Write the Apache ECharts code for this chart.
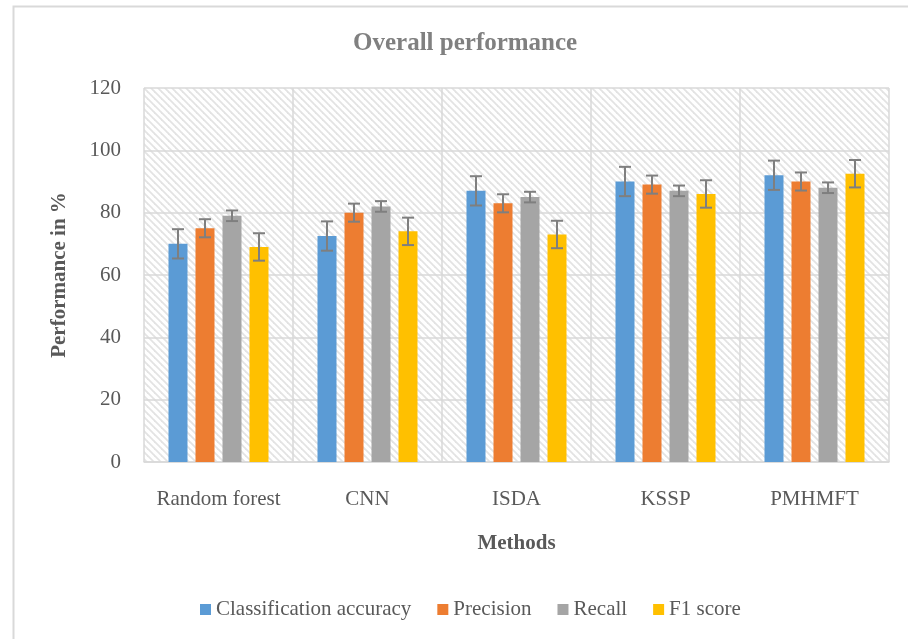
<!DOCTYPE html>
<html>
<head>
<meta charset="utf-8">
<script src="https://cdn.jsdelivr.net/npm/echarts@6/dist/echarts.min.js"></script>
<style>html,body{margin:0;padding:0;background:#fff;}#c{width:908px;height:639px;}</style>
</head>
<body>
<div id="c"></div>
<script>
var categories = ['Random forest', 'CNN', 'ISDA', 'KSSP', 'PMHMFT'];
var seriesNames = ['Classification accuracy', 'Precision', 'Recall', 'F1 score'];
var accuracy = [70, 72.5, 87, 90, 92];
var precision = [75, 80, 83, 89, 90];
var recall = [79, 82, 85, 87, 88];
var f1score = [69, 74, 73, 86, 92.5];
var errAccuracy = [4.7, 4.7, 4.7, 4.7, 4.7];
var errPrecision = [2.9, 2.9, 2.9, 2.9, 2.9];
var errRecall = [1.7, 1.7, 1.7, 1.7, 1.7];
var errF1 = [4.4, 4.4, 4.4, 4.4, 4.4];
var yTicks = [0, 20, 40, 60, 80, 100, 120];

var colors = ['#5b9bd5', '#ed7d31', '#a5a5a5', '#ffc000'];
var FONT = '"Liberation Serif", "Times New Roman", serif';
var values = [accuracy, precision, recall, f1score];
var errors = [errAccuracy, errPrecision, errRecall, errF1];

// hatch pattern
var T = 7;
var tile = document.createElement('canvas');
tile.width = T; tile.height = T;
var tc = tile.getContext('2d');
tc.fillStyle = '#ffffff'; tc.fillRect(0, 0, T, T);
tc.strokeStyle = '#e3e3e3'; tc.lineWidth = 1.8;
[-T, 0, T].forEach(function (o) {
  tc.beginPath(); tc.moveTo(o - 1, -1); tc.lineTo(o + T + 1, T + 1); tc.stroke();
});

var BAR_W = 19, BAR_GAP = 8;
var total = 4 * BAR_W + 3 * BAR_GAP;
function offsetOf(i) { return -total / 2 + BAR_W / 2 + i * (BAR_W + BAR_GAP); }

var series = [];
values.forEach(function (v, i) {
  series.push({
    name: seriesNames[i], type: 'bar', data: v,
    barWidth: BAR_W, barGap: (BAR_GAP / BAR_W * 100) + '%',
    itemStyle: { color: colors[i] }, z: 2
  });
});
values.forEach(function (v, i) {
  var data = v.map(function (val, k) { return [k, val - errors[i][k], val + errors[i][k]]; });
  series.push({
    type: 'custom', name: 'err' + i, z: 5,
    data: data,
    encode: { x: 0, y: [1, 2] },
    renderItem: function (params, api) {
      var lo = api.coord([api.value(0), api.value(1)]);
      var hi = api.coord([api.value(0), api.value(2)]);
      var x = lo[0] + offsetOf(i);
      var hw = 6;
      var st = { stroke: '#7f7f7f', lineWidth: 2 };
      return {
        type: 'group',
        children: [
          { type: 'line', shape: { x1: x, y1: lo[1], x2: x, y2: hi[1] }, style: st },
          { type: 'line', shape: { x1: x - hw, y1: lo[1], x2: x + hw, y2: lo[1] }, style: st },
          { type: 'line', shape: { x1: x - hw, y1: hi[1], x2: x + hw, y2: hi[1] }, style: st }
        ]
      };
    }
  });
});

var chart = echarts.init(document.getElementById('c'));
chart.setOption({
  animation: false,
  backgroundColor: '#ffffff',
  title: {
    text: 'Overall performance', left: 348, top: 26,
    textStyle: { fontFamily: FONT, fontSize: 25, fontWeight: 'bold', color: '#808080' }
  },
  legend: {
    data: seriesNames, left: 195, top: 594,
    icon: 'rect', itemWidth: 11, itemHeight: 11, itemGap: 26,
    textStyle: { fontFamily: FONT, fontSize: 21, color: '#595959' }
  },
  graphic: [{
    type: 'rect', left: 11, top: 4, z: -1, silent: true,
    shape: { width: 920, height: 660 },
    style: { fill: 'none', stroke: '#d9d9d9', lineWidth: 2 }
  }],
  grid: {
    left: 144, right: 19, top: 88, bottom: 177, show: true,
    backgroundColor: { image: tile, repeat: 'repeat' }, borderWidth: 0
  },
  xAxis: {
    type: 'category', data: categories,
    name: 'Methods', nameLocation: 'middle', nameGap: 71,
    nameTextStyle: { fontFamily: FONT, fontSize: 21, fontWeight: 'bold', color: '#595959' },
    axisLine: { show: true, lineStyle: { color: '#d9d9d9', width: 1.5 } },
    axisTick: { show: false },
    axisLabel: { interval: 0, fontFamily: FONT, fontSize: 21, color: '#595959', margin: 27 },
    splitLine: { show: true, interval: 0, lineStyle: { color: '#d9d9d9', width: 1.5 } }
  },
  yAxis: {
    type: 'value', min: yTicks[0], max: yTicks[yTicks.length - 1], interval: yTicks[1] - yTicks[0],
    name: 'Performance in %', nameLocation: 'middle', nameGap: 74,
    nameTextStyle: { fontFamily: FONT, fontSize: 21, fontWeight: 'bold', color: '#595959' },
    axisLine: { show: false }, axisTick: { show: false },
    axisLabel: { fontFamily: FONT, fontSize: 21, color: '#595959', margin: 23 },
    splitLine: { show: true, lineStyle: { color: '#d9d9d9', width: 1.5 } }
  },
  series: series
});
</script>
</body>
</html>
